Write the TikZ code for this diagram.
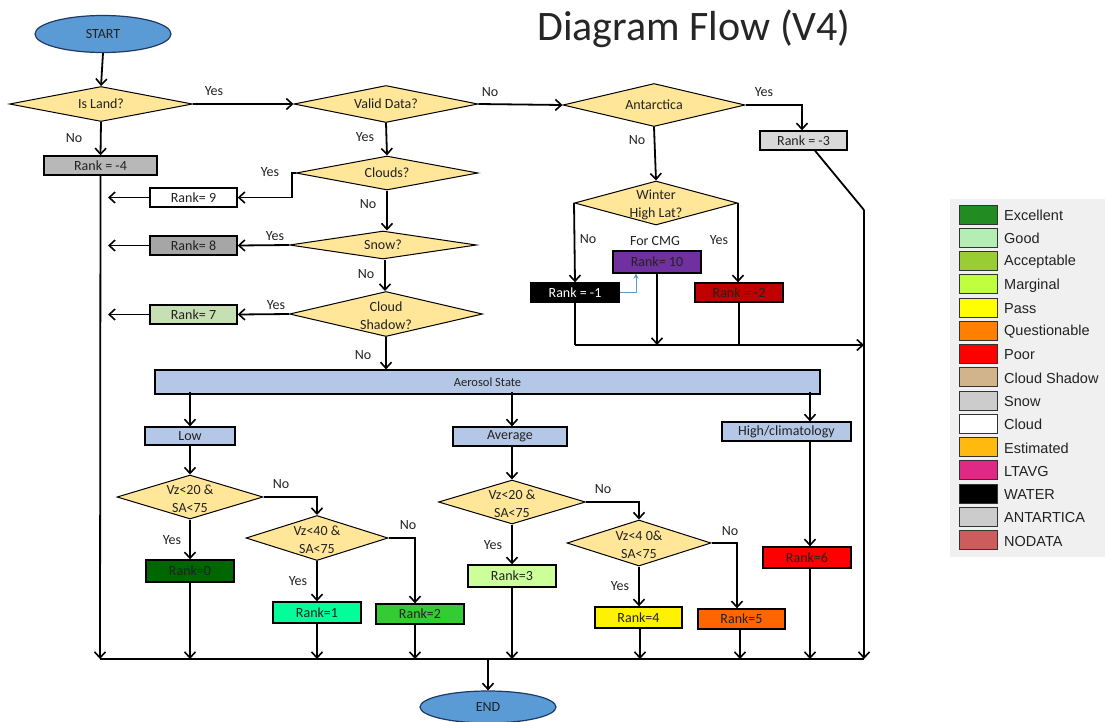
\documentclass[tikz,border=0pt]{standalone}
\usepackage{fontspec}
\setmainfont{Carlito}
\newfontfamily\legendfont{Liberation Sans}
\usetikzlibrary{shapes.geometric,arrows.meta}
\definecolor{diafill}{HTML}{FFE699}
\definecolor{ovalfill}{HTML}{5B9BD5}
\definecolor{ovaldraw}{HTML}{1F3864}
\definecolor{aerofill}{HTML}{B4C7E7}
\definecolor{txt}{HTML}{222222}
\definecolor{legbg}{HTML}{F0F0F0}
\tikzset{
  arr/.style={line width=1.8pt,-{Straight Barb[length=6pt,width=11pt,line width=1.6pt]}},
  ln/.style={line width=1.8pt},
  dia/.style={diamond,draw=black,line width=1pt,fill=diafill,inner sep=0pt},
  dtxt/.style={font=\fontsize{14}{18}\selectfont,text=txt,align=center,inner sep=0pt},
  rbox/.style={rectangle,draw=black,line width=1.4pt,inner sep=0pt,font=\fontsize{14}{16}\selectfont,text=txt},
  oval/.style={ellipse,draw=ovaldraw,line width=1.2pt,fill=ovalfill,inner sep=0pt,font=\fontsize{14}{16}\selectfont,text=txt},
  lbl/.style={font=\fontsize{14}{16}\selectfont,text=txt,inner sep=0pt},
  swatch/.style={rectangle,draw=black!80,line width=0.8pt,minimum width=38pt,minimum height=19pt,inner sep=0pt},
  legtxt/.style={font=\legendfont\fontsize{14.5}{16}\selectfont,text=txt,anchor=west,inner sep=0pt}
}
\begin{document}
\begin{tikzpicture}[x=1pt,y=-1pt]
\useasboundingbox (0,0) rectangle (1105,721);
\fill[white] (0,0) rectangle (1105,721);
% legend background
\fill[legbg] (950,199) rectangle (1105,557);

% title
\node[font=\fontsize{42}{46}\selectfont,text=black!85,inner sep=0pt] (title) at (694,29) {Diagram Flow (V4)};

% start / end
\node[oval,minimum width=136pt,minimum height=37pt] (start) at (103,34) {START};
\node[oval,minimum width=136pt,minimum height=32pt] (end) at (488,707) {END};

% diamonds
\node[dia,minimum width=183pt,minimum height=35pt] (island) at (101,104) {};
\node[dtxt] (islandt) at (island) {Is Land?};
\node[dia,minimum width=184pt,minimum height=37pt] (valid) at (386,104) {};
\node[dtxt] (validt) at (valid) {Valid Data?};
\node[dia,minimum width=182pt,minimum height=43pt] (antarc) at (654,105) {};
\node[dtxt] (antarct) at (antarc) {Antarctica};
\node[dia,minimum width=163pt,minimum height=44pt] (winter) at (656,203) {};
\node[dtxt] (wintert) at (656,205) {Winter\\High Lat?};
\node[dia,minimum width=182pt,minimum height=34pt] (clouds) at (387,173) {};
\node[dtxt] (cloudst) at (clouds) {Clouds?};
\node[dia,minimum width=187pt,minimum height=28pt] (snow) at (383,245) {};
\node[dtxt] (snowt) at (snow) {Snow?};
\node[dia,minimum width=193pt,minimum height=45pt] (shadow) at (386,314) {};
\node[dtxt] (shadowt) at (386,316) {Cloud\\Shadow?};
\node[dia,minimum width=146pt,minimum height=44pt] (lowa) at (190,497) {};
\node[dtxt] (lowat) at (190,499) {Vz<20 \&\\SA<75};
\node[dia,minimum width=142pt,minimum height=45pt] (lowb) at (317,538) {};
\node[dtxt] (lowbt) at (317,540) {Vz<40 \&\\SA<75};
\node[dia,minimum width=147pt,minimum height=44pt] (ava) at (512,502) {};
\node[dtxt] (avat) at (512,504) {Vz<20 \&\\SA<75};
\node[dia,minimum width=144pt,minimum height=46pt] (avb) at (639,543) {};
\node[dtxt] (avbt) at (639,545) {Vz<4 0\&\\SA<75};

% rank boxes
\node[rbox,fill=black!28,minimum width=113pt,minimum height=19pt] (rm4) at (100.5,165.5) {Rank = -4};
\node[rbox,fill=black!15,minimum width=87pt,minimum height=19pt] (rm3) at (803.5,140.5) {Rank = -3};
\node[rbox,fill=white,minimum width=87pt,minimum height=19pt] (r9) at (193.5,197.5) {Rank= 9};
\node[rbox,fill=black!35,minimum width=87pt,minimum height=19pt] (r8) at (193.5,245.5) {Rank= 8};
\node[rbox,fill={rgb,255:red,198;green,224;blue,180},minimum width=87pt,minimum height=19pt] (r7) at (193.5,314.5) {Rank= 7};
\node[rbox,fill={rgb,255:red,112;green,48;blue,160},minimum width=88pt,minimum height=22pt] (r10) at (657,262) {Rank= 10};
\node[rbox,fill=black,text=white,minimum width=88pt,minimum height=19pt] (rm1) at (575,292.5) {Rank = -1};
\node[rbox,fill={rgb,255:red,192;green,0;blue,0},minimum width=88pt,minimum height=19pt] (rm2) at (739,292.5) {Rank = -2};

% aerosol
\node[rbox,fill=aerofill,line width=1.2pt,minimum width=665pt,minimum height=24pt,font=\fontsize{12.5}{14}\selectfont] (aero) at (487.5,382) {Aerosol State};
\node[rbox,fill=aerofill,line width=1.2pt,minimum width=90pt,minimum height=18pt] (low) at (190,436) {Low};
\node[rbox,fill=aerofill,line width=1.2pt,minimum width=114pt,minimum height=19pt] (avg) at (510,436.5) {Average};
\node[rbox,fill=aerofill,line width=1.2pt,minimum width=129pt,minimum height=19pt] (high) at (786.5,431.5) {High/climatology};

\node[rbox,fill={rgb,255:red,0;green,102;blue,0},minimum width=88pt,minimum height=22pt] (r0) at (190,571) {Rank=0};
\node[rbox,fill={rgb,255:red,0;green,255;blue,153},minimum width=88pt,minimum height=21pt] (r1) at (317,612.5) {Rank=1};
\node[rbox,fill={rgb,255:red,51;green,204;blue,51},minimum width=88pt,minimum height=20pt] (r2) at (420,614) {Rank=2};
\node[rbox,fill={rgb,255:red,204;green,255;blue,153},minimum width=88pt,minimum height=22pt] (r3) at (512,576) {Rank=3};
\node[rbox,fill=yellow,minimum width=87pt,minimum height=21pt] (r4) at (638.5,617.5) {Rank=4};
\node[rbox,fill={rgb,255:red,255;green,102;blue,0},minimum width=87pt,minimum height=20pt] (r5) at (741.5,619) {Rank=5};
\node[rbox,fill=red,minimum width=88pt,minimum height=21pt] (r6) at (807,557.5) {Rank=6};

% helper coordinates
\coordinate (bl) at (100,659);
\coordinate (br) at (864,659);
\coordinate (rc) at (864,210);
\coordinate (l9) at (108,197.5);
\coordinate (l8) at (108,245.5);
\coordinate (l7) at (108,314.5);
\coordinate (cmg) at (575,345);
\coordinate (cmge) at (864,345);
\coordinate (endj) at (488,659);

% main flow
\draw[arr] (start.south) -- (island.north);
\draw[arr] (island.east) -- (valid.west);
\draw[arr] (island.south) -- (rm4.north);
\draw[arr] (valid.east) -- (antarc.west);
\draw[arr] (antarc.east) -| (rm3.north -| 802,0);
\draw[arr] (antarc.south) -- (winter.north);
\draw[arr] (winter.west) -- (rm1.north);
\draw[arr] (winter.east) -- (rm2.north -| winter.east);
\draw[line width=1pt,color=ovalfill,-{Stealth[length=5pt,width=5pt]}] (rm1.east) -| (r10.south -| 636,0);
\draw[ln] (rm1.south) -- (cmg);
\draw[arr] (cmg) -- (cmge);
\draw[arr] (r10.south) -- (r10.south |- cmg);
\draw[ln] (rm2.south) -- (rm2.south |- cmg);
\draw[ln] (rm3.south -| 815,0) -- (rc);
\draw[arr] (rc) -- (br);

\draw[arr] (valid.south) -- (clouds.north);
\draw[ln] (clouds.west) -- (292,173) -- (292,197.5);
\draw[arr] (292,197.5) -- (r9.east);
\draw[arr] (r9.west) -- (l9);
\draw[arr] (clouds.south) -- (snow.north -| clouds.south);
\draw[arr] (snow.west) -- (r8.east);
\draw[arr] (r8.west) -- (l8);
\draw[arr] (snow.south -| 385,0) -- (shadow.north -| 385,0);
\draw[arr] (shadow.west) -- (r7.east);
\draw[arr] (r7.west) -- (l7);
\draw[arr] (shadow.south) -- (aero.north -| shadow.south);
\draw[arr] (rm4.south) -- (bl);

\draw[arr] ([yshift=3pt]aero.south -| low.north) -- (low.north);
\draw[arr] ([yshift=3pt]aero.south -| 512,0) -- (avg.north -| 512,0);
\draw[arr] ([yshift=3pt]aero.south -| 810,0) -- (high.north -| 810,0);

\draw[arr] (low.south) -- (lowa.north);
\draw[arr] (lowa.east) -| (lowb.north);
\draw[arr] (lowa.south) -- (r0.north);
\draw[arr] (lowb.south) -- (r1.north);
\draw[arr] (lowb.east) -| (r2.north -| 415,0);
\draw[arr] (avg.south -| ava.north) -- (ava.north);
\draw[arr] (ava.east) -| (avb.north);
\draw[arr] (ava.south) -- (r3.north);
\draw[arr] (avb.south) -- (r4.north -| avb.south);
\draw[arr] (avb.east) -| (r5.north -| 737,0);
\draw[arr] (high.south -| 810,0) -- (r6.north -| 810,0);

\draw[arr] (r0.south) -- (r0.south |- bl);
\draw[arr] (r1.south) -- (r1.south |- bl);
\draw[arr] (r2.south -| 415,0) -- (415,659);
\draw[arr] (r3.south) -- (r3.south |- bl);
\draw[arr] (r4.south -| 640,0) -- (640,659);
\draw[arr] (r5.south -| 740,0) -- (740,659);
\draw[arr] (r6.south -| 810,0) -- (810,659);
\draw[ln] (bl) -- (br);
\draw[arr] (endj) -- (end.north);

% branch labels
\node[lbl] (y1) at (214,91) {Yes};
\node[lbl] (n1) at (74,138) {No};
\node[lbl] (n2) at (490,92) {No};
\node[lbl] (y2) at (764,92) {Yes};
\node[lbl] (n3) at (637,140) {No};
\node[lbl] (n4) at (588,239) {No};
\node[lbl] (y3) at (719,240) {Yes};
\node[lbl] (cmgl) at (655,241) {For CMG};
\node[lbl] (y4) at (365,137) {Yes};
\node[lbl] (y5) at (270,172) {Yes};
\node[lbl] (n5) at (368,204) {No};
\node[lbl] (y6) at (275,236) {Yes};
\node[lbl] (n6) at (366,274) {No};
\node[lbl] (y7) at (276,305) {Yes};
\node[lbl] (n7) at (363,355) {No};
\node[lbl] (n8) at (281,484) {No};
\node[lbl] (y8) at (172,540) {Yes};
\node[lbl] (y9) at (298,581) {Yes};
\node[lbl] (n9) at (408,525) {No};
\node[lbl] (n10) at (603,489) {No};
\node[lbl] (y10) at (493,545) {Yes};
\node[lbl] (y11) at (620,586) {Yes};
\node[lbl] (n11) at (730,531) {No};

% legend
\foreach \i/\c/\t in {0/{rgb,255:red,34;green,139;blue,34}/Excellent,
  1/{rgb,255:red,180;green,238;blue,180}/Good,
  2/{rgb,255:red,154;green,205;blue,50}/Acceptable,
  3/{rgb,255:red,192;green,255;blue,62}/Marginal,
  4/{rgb,255:red,255;green,255;blue,0}/Pass,
  5/{rgb,255:red,255;green,127;blue,0}/Questionable,
  6/{rgb,255:red,255;green,0;blue,0}/Poor,
  7/{rgb,255:red,210;green,180;blue,140}/Cloud Shadow,
  8/{rgb,255:red,204;green,204;blue,204}/Snow,
  9/{rgb,255:red,255;green,255;blue,255}/Cloud,
  10/{rgb,255:red,255;green,185;blue,15}/Estimated,
  11/{rgb,255:red,222;green,42;blue,132}/LTAVG,
  12/{rgb,255:red,0;green,0;blue,0}/WATER,
  13/{rgb,255:red,204;green,204;blue,204}/ANTARTICA,
  14/{rgb,255:red,205;green,92;blue,92}/NODATA}{
  \node[swatch,fill=\c] (sw\i) at (978,214.5+23.25*\i) {};
  \node[legtxt] (lt\i) at (1004,215.5+23.25*\i) {\t};
}
\end{tikzpicture}
\end{document}
